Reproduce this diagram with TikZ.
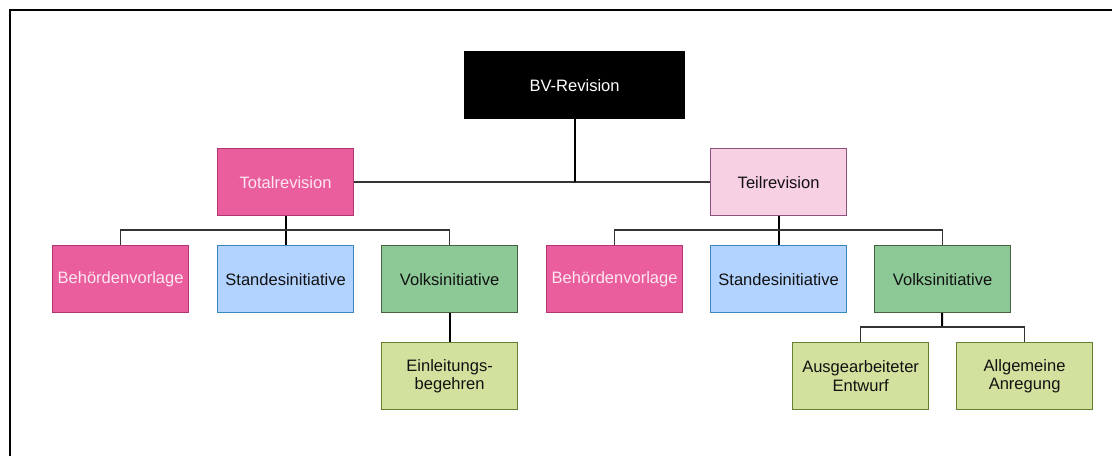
\documentclass[tikz,border=0pt]{standalone}
\usepackage{fontspec}
\setmainfont{Liberation Sans}
\usetikzlibrary{positioning}
\definecolor{RevInk}{HTML}{111111}
\definecolor{RevLine}{HTML}{333333}
\definecolor{RevPink}{HTML}{EB5E9D}
\definecolor{RevPinkLine}{HTML}{B03570}
\definecolor{RevPinkText}{HTML}{FBE8F1}
\definecolor{RevRose}{HTML}{F8D0E4}
\definecolor{RevRoseLine}{HTML}{8F5080}
\definecolor{RevBlue}{HTML}{B2D2FF}
\definecolor{RevBlueLine}{HTML}{3A88BC}
\definecolor{RevGreen}{HTML}{8DC996}
\definecolor{RevGreenLine}{HTML}{46623F}
\definecolor{RevLime}{HTML}{D2E19E}
\definecolor{RevLimeLine}{HTML}{657F2E}

\begin{document}
\begin{tikzpicture}[
    x=0.75pt,
    y=-0.75pt,
    font=\fontsize{12.4}{13.6}\selectfont,
    box/.style={draw, line width=0.9pt, align=center, anchor=north west, minimum width=102pt, minimum height=50.25pt, inner sep=2pt, text=RevInk},
    top/.style={box, minimum width=165pt, fill=black, draw=black, text=white},
    strong/.style={box, fill=RevPink, draw=RevPinkLine, text=RevPinkText},
    soft/.style={box, fill=RevRose, draw=RevRoseLine},
    canton/.style={box, fill=RevBlue, draw=RevBlueLine},
    people/.style={box, fill=RevGreen, draw=RevGreenLine},
    form/.style={box, fill=RevLime, draw=RevLimeLine},
    trunk/.style={line width=1.5pt, color=black},
    bus/.style={line width=1pt, color=RevLine},
    frame/.style={line width=1.5pt, color=black}
  ]
    \useasboundingbox (0,0) rectangle (1112,456);
    \draw[frame] (9.5,456) -- (9.5,10) -- (1112,10);

    \node[top] (bv) at (464,51) {BV-Revision};
    \node[strong] (total) at (217,148) {Totalrevision};
    \node[soft] (teil) at (710,148) {Teilrevision};

    \node[strong] (tbeh) at (52,245) {Behördenvorlage};
    \node[canton] (tstand) at (217,245) {Standesinitiative};
    \node[people] (tvolk) at (381,245) {Volksinitiative};
    \node[strong] (pbeh) at (546,245) {Behördenvorlage};
    \node[canton] (pstand) at (710,245) {Standesinitiative};
    \node[people] (pvolk) at (874,245) {Volksinitiative};

    \node[form] (einl) at (381,342) {Einleitungs-\\begehren};
    \node[form] (entwurf) at (792,342) {Ausgearbeiteter\\Entwurf};
    \node[form] (anreg) at (956,342) {Allgemeine\\Anregung};

    \coordinate (tbus) at (285,230);
    \coordinate (pbus) at (778,230);
    \coordinate (vbus) at (942,327);

    % first level
    \draw[bus] (total) -- (teil);
    \draw[trunk] (bv) -- (bv |- total);

    % Totalrevision
    \draw[trunk] (total) -- (tstand);
    \draw[bus] (tbus) -| (tbeh);
    \draw[bus] (tbus) -| (tvolk);
    \draw[trunk] (tvolk) -- (einl);

    % Teilrevision
    \draw[trunk] (teil) -- (pstand);
    \draw[bus] (pbus) -| (pbeh);
    \draw[bus] (pbus) -| (pvolk);
    \draw[trunk] (pvolk) -- (vbus);
    \draw[bus] (vbus) -| (entwurf);
    \draw[bus] (vbus) -| (anreg);
  \end{tikzpicture}
\end{document}
